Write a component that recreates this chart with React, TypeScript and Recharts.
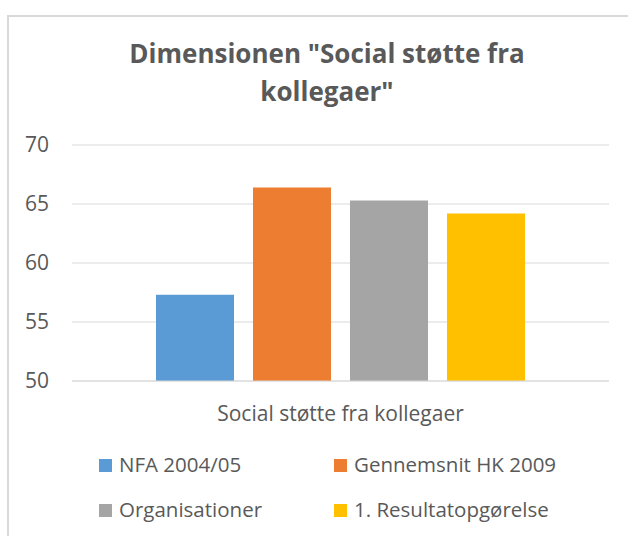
import React from "react"
import {
  BarChart,
  Bar,
  XAxis,
  YAxis,
  CartesianGrid,
  Legend,
} from "recharts"

const categories = ["Social støtte fra kollegaer"]
const seriesNames = [
  "NFA 2004/05",
  "Gennemsnit HK 2009",
  "Organisationer",
  "1. Resultatopgørelse",
]
const seriesKeys = ["nfa", "hk", "org", "res"]
const seriesColors = ["#5b9bd5", "#ed7d31", "#a5a5a5", "#ffc000"]

const nfaValues = [57.3]
const hkValues = [66.4]
const orgValues = [65.3]
const resValues = [64.2]

const yTicks = [50, 55, 60, 65, 70]

const FONT = "'Open Sans', 'Noto Sans', sans-serif"
const TEXT = "#595959"
const GRID = "#d9d9d9"

const data = categories.map((name, i) => ({
  name,
  nfa: nfaValues[i],
  hk: hkValues[i],
  org: orgValues[i],
  res: resValues[i],
}))

// 2x2 legend grid, like the Excel original, kept in series order
const renderLegend = (props: any) => {
  const payload = [...(props.payload || [])].sort(
    (a: any, b: any) => seriesNames.indexOf(a.value) - seriesNames.indexOf(b.value)
  )
  const cols = [99, 334]
  const rows = [19, 64]
  return (
    <svg width={628} height={92} style={{ display: "block" }}>
      {payload.map((entry: any, i: number) => {
        const x = cols[i % 2]
        const y = rows[Math.floor(i / 2)]
        return (
          <g key={entry.value}>
            <rect x={x} y={y} width={13} height={13} fill={entry.color} />
            <text
              x={x + 20}
              y={y + 13}
              fill={TEXT}
              fontSize={20.5}
              fontFamily={FONT}
            >
              {entry.value}
            </text>
          </g>
        )
      })}
    </svg>
  )
}

export default function App() {
  return (
    <div
      style={{
        position: "absolute",
        left: 0,
        top: 0,
        width: 628,
        height: 536,
        background: "#fff",
        overflow: "hidden",
      }}
    >
      <div
        style={{
          position: "absolute",
          left: 7,
          top: 15,
          width: 621,
          height: 521,
          borderLeft: `2px solid ${GRID}`,
          borderTop: `2px solid ${GRID}`,
          boxSizing: "border-box",
        }}
      />
      <div
        style={{
          position: "absolute",
          left: 27,
          top: 34,
          width: 600,
          textAlign: "center",
          fontFamily: FONT,
          fontWeight: 700,
          fontSize: 26,
          lineHeight: "38px",
          color: TEXT,
        }}
      >
        Dimensionen "Social støtte fra
        <br />
        kollegaer"
      </div>
      <div style={{ position: "absolute", left: 0, top: 0 }}>
        <BarChart
          width={628}
          height={536}
          data={data}
          margin={{ top: 145, right: 19, left: 0, bottom: 4 }}
          barCategoryGap={84}
          barGap={19}
        >
          <CartesianGrid vertical={false} stroke={GRID} strokeWidth={1} />
          <XAxis
            dataKey="name"
            height={59}
            tickLine={false}
            tickSize={0}
            tickMargin={25}
            axisLine={{ stroke: GRID }}
            tick={{ fill: TEXT, fontSize: 21, fontFamily: FONT }}
          />
          <YAxis
            width={72}
            domain={[50, 70]}
            ticks={yTicks}
            axisLine={false}
            tickLine={false}
            tickSize={0}
            tickMargin={23}
            tick={{ fill: TEXT, fontSize: 21, fontFamily: FONT }}
          />
          <Legend
            verticalAlign="bottom"
            content={renderLegend}
            wrapperStyle={{ left: 0, top: 440, width: 628, height: 92 }}
          />
          {seriesKeys.map((key, i) => (
            <Bar
              key={key}
              dataKey={key}
              name={seriesNames[i]}
              fill={seriesColors[i]}
              isAnimationActive={false}
            />
          ))}
        </BarChart>
      </div>
    </div>
  )
}
